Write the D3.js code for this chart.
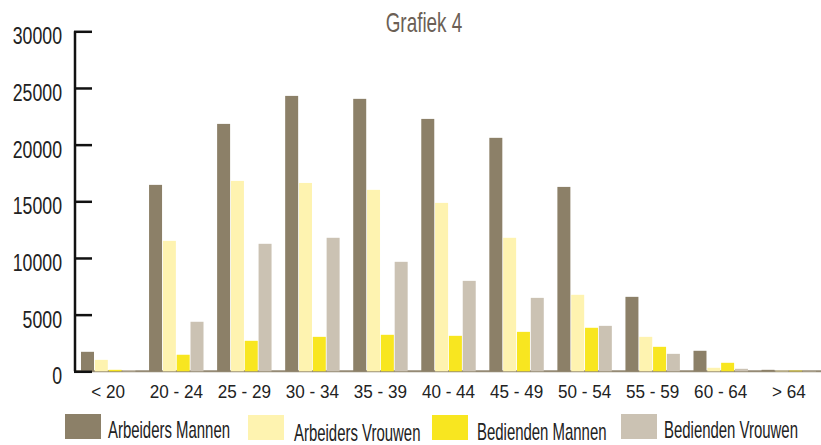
<!DOCTYPE html>
<html>
<head>
<meta charset="utf-8">
<script src="https://cdn.jsdelivr.net/npm/d3@7"></script>
<style>
  html, body { margin: 0; padding: 0; background: #fff; }
  svg { display: block; }
  text { font-family: "Liberation Sans", Arial, sans-serif; }
</style>
</head>
<body>
<svg id="chart" width="821" height="445"></svg>
<script>
const title = "Grafiek 4";
const categories = ["< 20", "20 - 24", "25 - 29", "30 - 34", "35 - 39", "40 - 44", "45 - 49", "50 - 54", "55 - 59", "60 - 64", "> 64"];
const seriesNames = ["Arbeiders Mannen", "Arbeiders Vrouwen", "Bedienden Mannen", "Bedienden Vrouwen"];
const arbeidersMannen  = [1720, 16450, 21830, 24300, 24040, 22270, 20600, 16270, 6570, 1810, 130];
const arbeidersVrouwen = [1010, 11510, 16800, 16620, 16010, 14860, 11780, 6750, 3040, 310, 50];
const bediendenMannen  = [130, 1460, 2690, 3040, 3220, 3130, 3480, 3840, 2160, 750, 60];
const bediendenVrouwen = [100, 4370, 11250, 11780, 9660, 7980, 6480, 4010, 1540, 220, 40];
const yTicks = [0, 5000, 10000, 15000, 20000, 25000, 30000];
const colors = ["#8c8068", "#fef3b0", "#f8e620", "#cbc2b3"];

const series = [arbeidersMannen, arbeidersVrouwen, bediendenMannen, bediendenVrouwen];

// narrow the (Arial-metric) font horizontally to mimic the condensed face of the original
function condense(sel, f) {
  sel.each(function () {
    const tx = +this.getAttribute("x") || 0;
    const ty = +this.getAttribute("y") || 0;
    this.setAttribute("x", 0);
    this.setAttribute("y", 0);
    const prev = this.getAttribute("transform") || "";
    this.setAttribute("transform", `${prev} translate(${tx},${ty}) scale(${f},1)`);
  });
}

const svg = d3.select("#chart");

const x = d3.scaleBand().domain(categories).range([74, 823]).paddingInner(0.2).paddingOuter(0.103);
const xs = d3.scaleBand().domain(d3.range(series.length)).range([0, x.bandwidth()]).paddingInner(0.06);
const y = d3.scaleLinear().domain([0, 30000]).range([371.3, 31.3]);

// title
svg.append("text")
  .attr("x", 424).attr("y", 31.5)
  .attr("text-anchor", "middle")
  .attr("fill", "#6b5f55")
  .attr("font-size", 27)
  .text(title)
  .call(condense, 0.7);

// floor line
svg.append("line")
  .attr("x1", 74).attr("x2", 821)
  .attr("y1", y(0)).attr("y2", y(0))
  .attr("stroke", "#958a75").attr("stroke-width", 2);

// bars
const groups = svg.append("g").selectAll("g")
  .data(categories)
  .join("g")
  .attr("transform", d => `translate(${x(d)},0)`);

groups.selectAll("rect")
  .data((d, i) => series.map((s, k) => ({k, v: s[i]})))
  .join("rect")
  .attr("x", d => xs(d.k))
  .attr("width", xs.bandwidth())
  .attr("y", d => y(d.v))
  .attr("height", d => y(0) - y(d.v))
  .attr("fill", d => colors[d.k]);

// y axis
const yAxis = d3.axisRight(y).tickValues(yTicks).tickSize(18).tickFormat(d => d);
const ga = svg.append("g").attr("transform", "translate(74,0)").call(yAxis);
ga.select(".domain").attr("stroke", "#111").attr("stroke-width", 2.5)
  .attr("d", `M1,${y(30000)}V${y(0)}`);
ga.selectAll(".tick line").attr("stroke", "#111").attr("stroke-width", 2.5);
ga.selectAll(".tick text")
  .attr("x", -12).attr("y", 0).attr("dy", "0.54em")
  .attr("text-anchor", "end")
  .attr("fill", "#222")
  .attr("font-size", 23)
  .style("font-family", '"Liberation Sans", Arial, sans-serif')
  .call(condense, 0.77);

// x labels
const gx = svg.append("g");
gx.selectAll("text")
  .data(categories)
  .join("text")
  .attr("x", d => x(d) + x.bandwidth() / 2)
  .attr("y", 398)
  .attr("text-anchor", "middle")
  .attr("fill", "#222")
  .attr("font-size", 19)
  .text(d => d)
  .call(condense, 0.9);

// legend
const legendX = [65, 248, 432, 621];
const legendTextDX = [43, 46, 45, 43];
const legendTextY = [438, 441, 440, 438];
const lg = svg.append("g").selectAll("g")
  .data(seriesNames)
  .join("g");
lg.append("rect")
  .attr("x", (d, i) => legendX[i])
  .attr("y", (d, i) => i === 0 || i === 3 ? 414 : 415)
  .attr("width", 36).attr("height", 25)
  .attr("fill", (d, i) => colors[i]);
lg.append("text")
  .attr("x", (d, i) => legendX[i] + legendTextDX[i])
  .attr("y", (d, i) => legendTextY[i])
  .attr("fill", "#222")
  .attr("font-size", 23)
  .text(d => d)
  .call(condense, 0.65);
</script>
</body>
</html>
